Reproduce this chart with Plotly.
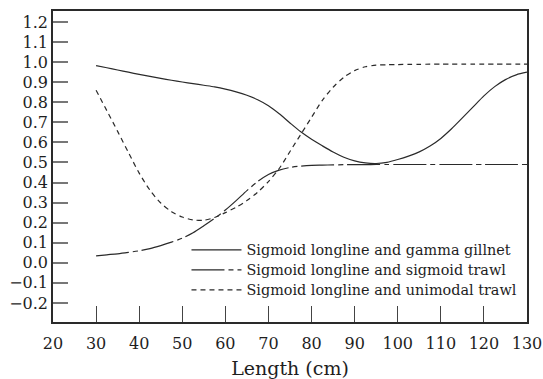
import plotly.graph_objects as go

# Combined selectivity vs fish length (cm), sampled every 2.5 cm
length_cm = [30, 32.5, 35, 37.5, 40, 42.5, 45, 47.5, 50, 52.5, 55, 57.5, 60, 62.5,
             65, 67.5, 70, 72.5, 75, 77.5, 80, 82.5, 85, 87.5, 90, 92.5, 95, 97.5,
             100, 102.5, 105, 107.5, 110, 112.5, 115, 117.5, 120, 122.5, 125, 127.5, 130]

gamma_gillnet = [0.983, 0.972, 0.961, 0.950, 0.939, 0.929, 0.919, 0.910, 0.901, 0.893,
                 0.885, 0.877, 0.866, 0.852, 0.835, 0.813, 0.783, 0.743, 0.697, 0.653,
                 0.616, 0.583, 0.552, 0.526, 0.508, 0.498, 0.495, 0.501, 0.515, 0.532,
                 0.553, 0.582, 0.620, 0.668, 0.722, 0.777, 0.832, 0.878, 0.913, 0.937,
                 0.950]

sigmoid_trawl = [0.035, 0.040, 0.045, 0.052, 0.060, 0.071, 0.086, 0.103, 0.123, 0.150,
                 0.185, 0.222, 0.263, 0.310, 0.360, 0.405, 0.440, 0.462, 0.475, 0.482,
                 0.486, 0.487, 0.488, 0.489, 0.489, 0.489, 0.490, 0.490, 0.490, 0.490,
                 0.490, 0.490, 0.490, 0.490, 0.490, 0.490, 0.490, 0.490, 0.490, 0.490,
                 0.490]

unimodal_trawl = [0.860, 0.758, 0.655, 0.550, 0.447, 0.362, 0.298, 0.255, 0.228, 0.214,
                  0.212, 0.226, 0.250, 0.277, 0.310, 0.352, 0.405, 0.470, 0.555, 0.640,
                  0.725, 0.810, 0.875, 0.925, 0.958, 0.977, 0.985, 0.987, 0.988, 0.989,
                  0.989, 0.990, 0.990, 0.990, 0.990, 0.990, 0.990, 0.990, 0.990, 0.990,
                  0.990]

series_names = ["Sigmoid longline and gamma gillnet",
                "Sigmoid longline and sigmoid trawl",
                "Sigmoid longline and unimodal trawl"]

y_ticks = [-0.2, -0.1, 0.0, 0.1, 0.2, 0.3, 0.4, 0.5, 0.6, 0.7, 0.8, 0.9, 1.0, 1.1, 1.2]
y_labels = ["\u22120.2", "\u22120.1", "0.0", "0.1", "0.2", "0.3", "0.4", "0.5",
            "0.6", "0.7", "0.8", "0.9", "1.0", "1.1", "1.2"]
x_ticks = [20, 30, 40, 50, 60, 70, 80, 90, 100, 110, 120, 130]

FONT = "DejaVu Serif"
INK = "#2a2a2a"
TEXT = "#1e1e1e"

fig = go.Figure()
styles = [
    (gamma_gillnet, "solid", "legend"),
    (sigmoid_trawl, "33px,4px,5px,4px", "legend2"),
    (unimodal_trawl, "5px,4px", "legend3"),
]
for (vals, dash, leg), name in zip(styles, series_names):
    fig.add_trace(go.Scatter(
        x=length_cm, y=vals, mode="lines", name=name, legend=leg,
        line=dict(color=INK, width=1.2, dash=dash, shape="spline", smoothing=0.8),
    ))


def legend_box(ypos):
    # one legend per curve so rows sit on an even 20 px pitch
    return dict(
        x=0.2816, y=ypos, xanchor="left", yanchor="middle",
        bgcolor="rgba(0,0,0,0)", borderwidth=0, itemwidth=50,
        font=dict(family=FONT, size=14.4, color=TEXT),
    )


fig.update_layout(
    width=543, height=379,
    margin=dict(l=53, r=16, t=11, b=57, autoexpand=False),
    paper_bgcolor="white", plot_bgcolor="white",
    font=dict(family=FONT, size=15, color=TEXT),
    showlegend=True,
    legend=legend_box(0.2315),
    legend2=legend_box(0.1672),
    legend3=legend_box(0.1029),
)
fig.update_xaxes(
    range=[20, 130], tickvals=x_ticks, automargin=False,
    ticks="inside", ticklen=16, tickwidth=1.2, tickcolor="#444",
    showline=True, linecolor=INK, linewidth=1.5, mirror=True,
    showgrid=False, zeroline=False, ticklabelstandoff=6,
    tickfont=dict(family=FONT, size=16, color=TEXT),
    title=dict(text="Length (cm)", font=dict(family=FONT, size=19, color=TEXT), standoff=16),
)
fig.update_yaxes(
    range=[-0.295, 1.255], tickvals=y_ticks, ticktext=y_labels, automargin=False,
    ticks="inside", ticklen=15, tickwidth=1.5, tickcolor="#777",
    showline=True, linecolor=INK, linewidth=1.5, mirror=True,
    showgrid=False, zeroline=False,
    tickfont=dict(family=FONT, size=16, color=TEXT),
)

fig.write_html("out.html")
